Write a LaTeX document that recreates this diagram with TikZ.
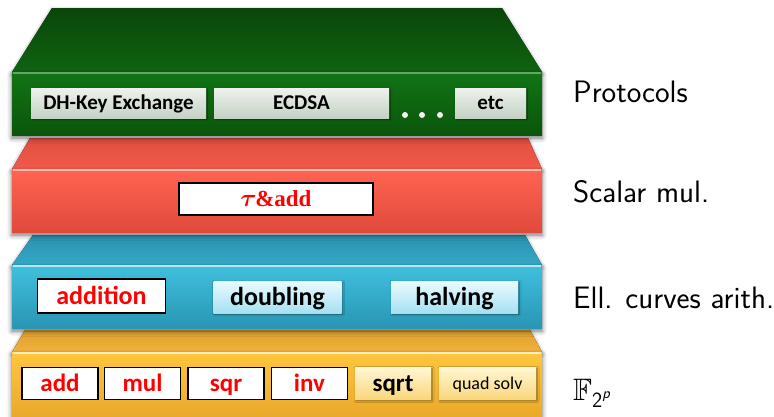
\documentclass[tikz,border=0pt]{standalone}
\usepackage{amsmath,amssymb}
\usepackage{fontspec}
\newfontfamily\boxfont{Carlito}
\newfontfamily\serifbold{Liberation Serif}
\usetikzlibrary{shadows.blur}

% layer colours
\definecolor{gTopA}{HTML}{0A460A}
\definecolor{gTopB}{HTML}{0E6410}
\definecolor{gFrA}{HTML}{127414}
\definecolor{gFrB}{HTML}{0A560C}
\definecolor{rTopA}{HTML}{E04E40}
\definecolor{rTopB}{HTML}{F25A4A}
\definecolor{rFrA}{HTML}{FF6452}
\definecolor{rFrB}{HTML}{E04A3C}
\definecolor{bTopA}{HTML}{2A92B0}
\definecolor{bTopB}{HTML}{34A8C6}
\definecolor{bFrA}{HTML}{40C0DE}
\definecolor{bFrB}{HTML}{2896B4}
\definecolor{oTopA}{HTML}{E0A030}
\definecolor{oTopB}{HTML}{F0B238}
\definecolor{oFrA}{HTML}{FFC63E}
\definecolor{oFrB}{HTML}{E8A82A}
\definecolor{txtred}{HTML}{FF0000}
\definecolor{creamA}{HTML}{FFF6D2}
\definecolor{creamB}{HTML}{F9D67C}
\definecolor{cyanA}{HTML}{EAFBFF}
\definecolor{cyanB}{HTML}{A6E0F2}
\definecolor{greyA}{HTML}{EEF2EE}
\definecolor{greyB}{HTML}{C4D2C4}

\tikzset{
  x=1pt, y=-1pt,
  layertop/.style 2 args={top color=#1, bottom color=#2, draw=none,
    blur shadow={shadow xshift=0pt, shadow yshift=-2pt, shadow blur radius=4pt, shadow opacity=45}},
  layerfront/.style 2 args={top color=#1, bottom color=#2, draw=none,
    blur shadow={shadow xshift=0pt, shadow yshift=-3pt, shadow blur radius=5pt, shadow opacity=55}},
  % text box sized so that capitals sit in the middle of the box
  boxtext/.style={inner sep=0pt, text height=#1, text depth=4pt},
  smallshadow/.style={blur shadow={shadow xshift=1pt, shadow yshift=-1pt, shadow blur radius=2pt, shadow opacity=50}},
  opbox/.style={boxtext=20pt, draw=black, line width=1.8pt, fill=white,
    minimum height=32pt, text=txtred, font=\boxfont\bfseries\fontsize{25}{25}\selectfont},
  greybox/.style={boxtext=17pt, draw=none, top color=greyA, bottom color=greyB, smallshadow,
    minimum height=30pt, font=\boxfont\bfseries\fontsize{21}{21}\selectfont},
  cyanbox/.style={boxtext=20.5pt, draw=none, top color=cyanA, bottom color=cyanB, smallshadow,
    minimum height=32pt, font=\boxfont\bfseries\fontsize{26}{26}\selectfont},
  creambox/.style={boxtext=20pt, draw=none, top color=creamA, bottom color=creamB, smallshadow,
    minimum height=32pt, font=\boxfont\bfseries\fontsize{25}{25}\selectfont},
  sidelabel/.style={anchor=base west, inner sep=0pt, font=\sffamily\fontsize{31}{31}\selectfont},
  dot/.style={circle, fill=white!92!gray, inner sep=0pt, minimum size=6pt}
}

\begin{document}
\begin{tikzpicture}
\useasboundingbox (0,0) rectangle (774,416);

% ---- field layer (bottom) ----
\fill[layertop={oTopA}{oTopB}] (25,330) -- (530,330) -- (542,352) -- (12,352) -- cycle;
\fill[layerfront={oFrA}{oFrB}] (12,352) rectangle (542,420);
\draw[white!70!oFrA, line width=1.2pt] (13,353) -- (541,353);

% ---- elliptic curve layer ----
\fill[layertop={bTopA}{bTopB}] (33,235) -- (525,235) -- (542,265) -- (12,265) -- cycle;
\fill[layerfront={bFrA}{bFrB}] (12,265) rectangle (542,328);
\draw[white!60!bFrA, line width=1.2pt] (13,266) -- (541,266);

% ---- scalar multiplication layer ----
\fill[layertop={rTopA}{rTopB}] (30,138) -- (528,138) -- (542,169) -- (12,169) -- cycle;
\fill[layerfront={rFrA}{rFrB}] (12,169) rectangle (542,232);
\draw[white!55!rFrA, line width=1.2pt] (13,170) -- (541,170);

% ---- protocol layer (top) ----
\fill[layertop={gTopA}{gTopB}] (52,8) -- (502,8) -- (542,72) -- (12,72) -- cycle;
\fill[layerfront={gFrA}{gFrB}] (12,72) rectangle (542,135);
\draw[white!35!gFrA, line width=1.2pt] (13,73) -- (541,73);

% protocol boxes
\node[greybox, minimum width=175pt] (dh) at (118.5,103) {DH-Key Exchange};
\node[greybox, minimum width=175pt] (ecdsa) at (301.5,103) {ECDSA};
\node[greybox, minimum width=71pt] (etc) at (490.5,103) {etc};
\node[dot] (d1) at (405,115) {};
\node[dot] (d2) at (422,115) {};
\node[dot] (d3) at (440,115) {};

% scalar multiplication box
\node[opbox, boxtext=19.5pt, minimum width=194pt, font=\serifbold\bfseries\fontsize{23}{23}\selectfont] (tau) at (276,199)
  {$\boldsymbol{\tau}$\kern-1.5pt\&add};

% curve arithmetic boxes
\node[opbox, boxtext=20.5pt, minimum width=128pt, minimum height=34pt, font=\boxfont\bfseries\fontsize{26}{26}\selectfont] (addition) at (101.5,296) {addition};
\node[cyanbox, minimum width=128pt] (doubling) at (277.5,297) {doubling};
\node[cyanbox, minimum width=127pt] (halving) at (454.5,297) {halving};

% field arithmetic boxes
\node[opbox, minimum width=76pt] (fadd) at (60,383.5) {add};
\node[opbox, minimum width=76pt] (fmul) at (142.5,383.5) {mul};
\node[opbox, minimum width=76pt] (fsqr) at (226,383.5) {sqr};
\node[opbox, minimum width=76pt] (finv) at (309.5,383.5) {inv};
\node[creambox, minimum width=76pt] (fsqrt) at (393,383.5) {sqrt};
\node[creambox, boxtext=15.5pt, minimum width=97pt, font=\boxfont\fontsize{18}{18}\selectfont] (fquad) at (487.5,383.5) {quad solv};

% layer names
\node[sidelabel] (lp) at (573,102) {Protocols};
\node[sidelabel] (ls) at (573,202) {Scalar mul.};
\node[sidelabel] (le) at (573,308) {Ell. curves arith.};
\node[sidelabel] (lf) at (573,400) {$\mathbb{F}_{\textsf{2}^{\textsf{\itshape p}}}$};
\end{tikzpicture}
\end{document}
